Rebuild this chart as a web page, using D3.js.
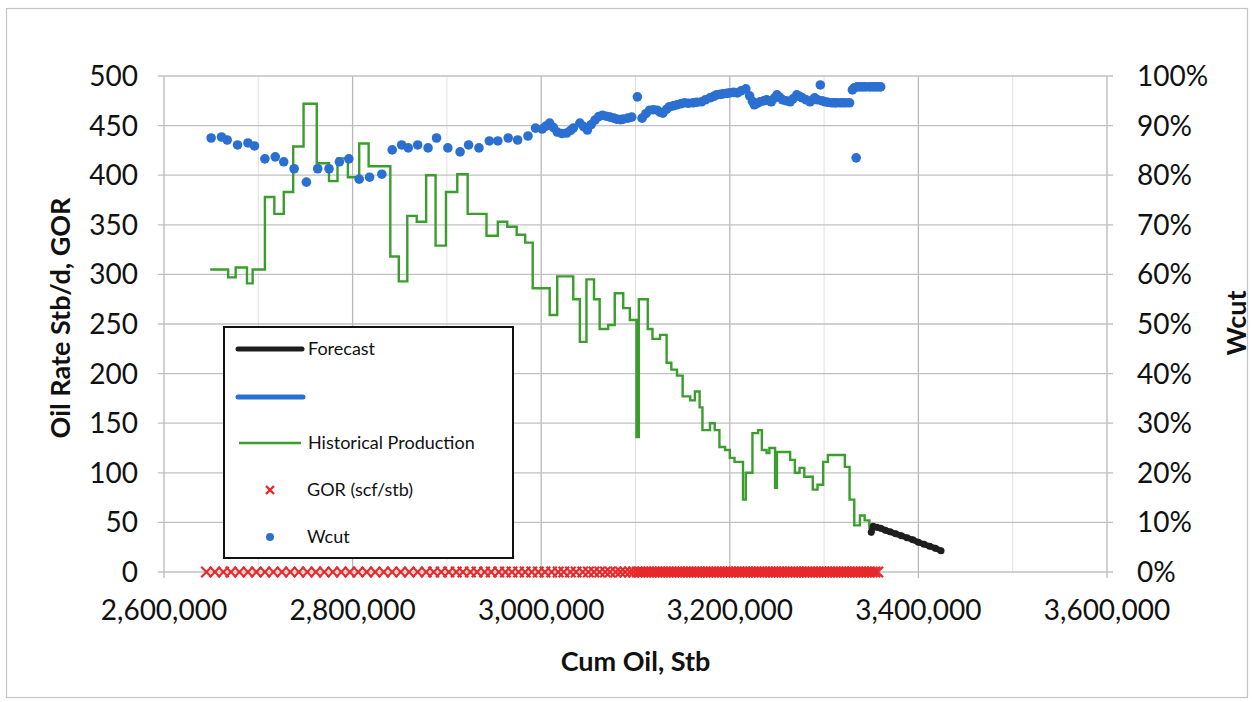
<!DOCTYPE html>
<html><head><meta charset="utf-8">
<script src="https://cdn.jsdelivr.net/npm/d3@7"></script>
<style>
body{margin:0;background:#fff}
svg{display:block}
text{font-family:Lato,"Open Sans",sans-serif;fill:#111}
</style>
</head><body>
<svg id="chart" width="1252" height="702"></svg>
<script>
// ---- data ----
const histCum = [2649000,2668000,2676000,2688000,2694000,2707000,2717000,2727000,2737000,2748000,2762000,2775000,2784000,2795000,2807000,2817000,2840000,2849000,2858000,2868000,2878000,2888000,2899000,2911000,2922000,2942000,2954000,2964000,2974000,2983000,2991000,3009000,3017000,3034000,3041000,3048000,3056000,3062000,3071000,3078000,3087000,3094000,3101000,3103500,3113000,3118000,3126000,3133000,3138000,3144000,3150000,3158000,3163000,3168000,3171000,3179000,3184000,3189000,3195000,3200000,3205000,3214000,3217000,3224000,3230000,3234000,3239000,3242000,3248000,3250000,3264000,3269000,3274000,3279000,3288000,3293000,3299000,3304000,3322000,3327000,3332000,3338000,3343000,3348000,3352000];
const histRate = [305,297,307,291,305,378,361,383,429,472,412,394,417,398,432,409,318,293,359,353,400,329,383,401,361,339,353,348,340,332,286,259,298,275,232,295,275,245,249,281,266,254,136,275,245,235,239,211,204,198,177,173,182,166,143,150,143,126,123,115,111,73,100,140,143,123,120,125,85,121,113,100,105,96,83,88,111,118,106,73,47,57,52,44,44];

const forecastCum = [3350000,3352000,3356000,3360000,3365000,3370000,3376000,3382000,3388000,3394000,3400000,3406000,3412000,3418000,3424000];
const forecastRate = [40,46,45,44,42,40.5,38.5,36.5,34.5,32.5,30,28,26,24,21.5];

const wcutCum = [2650000,2661000,2667000,2678000,2689000,2696000,2707000,2718000,2727000,2738000,2751000,2763000,2775000,2786000,2796000,2807000,2818000,2831000,2842000,2852000,2859000,2869000,2880000,2889000,2901000,2914000,2923000,2934000,2945000,2954000,2965000,2975000,2986000,2994000,3001000,3005000,3009000,3013000,3017000,3022000,3027000,3031000,3034000,3041000,3045000,3049000,3053000,3057000,3061000,3065000,3069000,3073000,3077000,3080000,3084000,3087000,3092000,3096000,3102000,3107000,3111000,3115000,3119000,3123000,3126000,3129000,3133000,3136000,3140000,3144000,3148000,3152000,3156000,3161000,3165000,3170000,3174000,3179000,3183000,3186000,3190000,3193000,3197000,3200000,3204000,3208000,3212000,3217000,3221000,3224000,3226000,3229000,3232000,3236000,3239000,3242000,3244000,3247000,3250000,3253000,3256000,3260000,3264000,3267000,3271000,3274000,3277000,3281000,3285000,3288000,3290000,3293000,3296000,3298000,3301000,3304000,3308000,3311000,3313000,3317000,3320000,3323000,3327000,3330000,3332000,3334000,3335000,3338000,3341000,3344000,3348000,3351000,3354000,3357000,3360000];
const wcutPct = [87.5,87.7,87.1,86.1,86.5,85.9,83.3,83.7,82.7,81.3,78.6,81.3,81.3,82.7,83.3,79.2,79.6,80.2,85.1,86.1,85.5,86.1,85.5,87.5,85.5,84.7,86.1,85.5,86.9,86.9,87.5,87.1,87.9,89.5,89.3,89.9,90.5,89.6,88.7,88.4,88.5,89.0,89.5,90.5,89.8,89.1,90.2,91.1,91.8,92.1,91.9,91.7,91.5,91.3,91.2,91.3,91.5,91.7,95.8,91.5,92.4,93.1,93.2,93.1,92.7,92.5,93.3,93.8,94.0,94.2,94.4,94.6,94.5,94.6,94.7,94.8,95.2,95.6,95.9,96.2,96.3,96.4,96.5,96.6,96.7,96.6,97.0,97.4,96.0,94.9,94.2,94.5,94.8,95.0,95.2,95.0,94.8,95.5,96.2,95.7,95.2,95.0,94.8,95.4,96.2,95.9,95.6,95.2,94.8,95.2,95.6,95.2,98.2,95.0,94.8,94.7,94.6,94.6,94.6,94.6,94.6,94.6,94.6,97.2,97.6,83.5,97.8,97.8,97.8,97.8,97.8,97.8,97.8,97.8,97.8];

const gorCum = [2645000,2654000,2663000,2671000,2680000,2689000,2698000,2707000,2716000,2725000,2734000,2743000,2752000,2761000,2770000,2779000,2788000,2797000,2806000,2815000,2824000,2833000,2842000,2851000,2860000,2869000,2878000,2886000,2894000,2902000,2910000,2917000,2925000,2932000,2940000,2947000,2955000,2962000,2969000,2976000,2983000,2990000,2997000,3004000,3011000,3018000,3024000,3031000,3037000,3044000,3050000,3056000,3062000,3068000,3073000,3079000,3084000,3089000,3094000,3098000,3102000,3105000,3108000,3111000,3114000,3117000,3120000,3123000,3126000,3129000,3132000,3135000,3138000,3141000,3144000,3147000,3150000,3153000,3156000,3159000,3162000,3165000,3168000,3171000,3174000,3177000,3180000,3183000,3186000,3189000,3192000,3195000,3198000,3201000,3204000,3207000,3210000,3213000,3216000,3219000,3222000,3225000,3228000,3231000,3234000,3237000,3240000,3243000,3246000,3249000,3252000,3255000,3258000,3261000,3264000,3267000,3270000,3273000,3276000,3279000,3282000,3285000,3288000,3291000,3294000,3297000,3300000,3303000,3306000,3309000,3312000,3315000,3318000,3321000,3324000,3327000,3330000,3333000,3336000,3339000,3342000,3345000,3348000,3351000,3354000,3357000];
const gorVal = gorCum.map(() => 0);

const leftTicks = [0,50,100,150,200,250,300,350,400,450,500];
const rightTicks = [0,0.1,0.2,0.3,0.4,0.5,0.6,0.7,0.8,0.9,1.0];
const xTicks = [2600000,2800000,3000000,3200000,3400000,3600000];
const xMinorTicks = [2700000,2900000,3100000,3300000,3500000];

const legendItems = ["Forecast","","Historical Production","GOR (scf/stb)","Wcut"];
const titles = {x:"Cum Oil, Stb", y:"Oil Rate Stb/d, GOR", y2:"Wcut"};

// ---- layout ----
const svg = d3.select("#chart");
const L = 164, R = 1107, T = 76, B = 572;
const x = d3.scaleLinear().domain([2600000,3600000]).range([L,R]);
const y = d3.scaleLinear().domain([0,500]).range([B,T]);
const y2 = d3.scaleLinear().domain([0,1]).range([B,T]);

const C = {green:"#3a9e2c", blue:"#2b6fd1", red:"#e8282a", black:"#1e1e1e"};

// outer frame
svg.append("rect").attr("x",6.5).attr("y",8.5).attr("width",1241).attr("height",689)
  .attr("fill","none").attr("stroke","#c4c4c4").attr("stroke-width",1.2);

// grid
const g = svg.append("g");
g.selectAll(".vminor").data(xMinorTicks).join("line")
  .attr("x1",d=>x(d)).attr("x2",d=>x(d)).attr("y1",T).attr("y2",B)
  .attr("stroke","#e2e2e2").attr("stroke-width",1);
g.selectAll(".vmajor").data(xTicks).join("line")
  .attr("x1",d=>x(d)).attr("x2",d=>x(d)).attr("y1",T).attr("y2",B+6)
  .attr("stroke","#b8b8b8").attr("stroke-width",1.3);
g.selectAll(".h").data(leftTicks).join("line")
  .attr("x1",L-6).attr("x2",R+6).attr("y1",d=>y(d)).attr("y2",d=>y(d))
  .attr("stroke","#c0c0c0").attr("stroke-width",1.3);

// axes labels
svg.append("g").selectAll("text").data(leftTicks).join("text")
  .attr("x",138).attr("y",d=>y(d)).attr("dy","0.36em").attr("text-anchor","end")
  .style("font-size","28px").text(d=>d);
svg.append("g").selectAll("text").data(rightTicks).join("text")
  .attr("x",1137).attr("y",d=>y2(d)).attr("dy","0.36em").attr("text-anchor","start")
  .style("font-size","28px").text(d=>d3.format(".0%")(d));
svg.append("g").selectAll("text").data(xTicks).join("text")
  .attr("x",d=>x(d)).attr("y",610).attr("dy","0.36em").attr("text-anchor","middle")
  .style("font-size","28px").text(d=>d3.format(",")(d));

svg.append("text").attr("x",x(3100000)).attr("y",661).attr("dy","0.36em")
  .attr("text-anchor","middle").style("font-size","27px").style("font-weight","bold").text(titles.x);
svg.append("text").attr("transform","translate(60,318) rotate(-90)").attr("dy","0.36em")
  .attr("text-anchor","middle").style("font-size","27px").style("font-weight","bold").text(titles.y);
svg.append("text").attr("transform","translate(1236,323) rotate(-90)").attr("dy","0.36em")
  .attr("text-anchor","middle").style("font-size","27px").style("font-weight","bold").text(titles.y2);

// GOR crosses
const cross = (sel, s) => sel.attr("d", `M${-s},${-s}L${s},${s}M${-s},${s}L${s},${-s}`);
svg.append("g").selectAll("path").data(gorCum.map((c,i)=>[c,gorVal[i]])).join("path")
  .call(cross,5.2)
  .attr("transform",d=>`translate(${x(d[0])},${y(d[1])})`)
  .attr("stroke",C.red).attr("stroke-width",2.2).attr("fill","none");

// historical step line
const hist = histCum.map((c,i)=>[c,histRate[i]]);
svg.append("path").datum(hist)
  .attr("d", d3.line().x(d=>x(d[0])).y(d=>y(d[1])).curve(d3.curveStepAfter))
  .attr("fill","none").attr("stroke",C.green).attr("stroke-width",2.4);

// forecast
const fc = forecastCum.map((c,i)=>[c,forecastRate[i]]);
svg.append("path").datum(fc)
  .attr("d", d3.line().x(d=>x(d[0])).y(d=>y(d[1])))
  .attr("fill","none").attr("stroke",C.black).attr("stroke-width",6).attr("stroke-linecap","round").attr("stroke-linejoin","round");
svg.append("g").selectAll("circle").data(fc).join("circle")
  .attr("cx",d=>x(d[0])).attr("cy",d=>y(d[1])).attr("r",3.5).attr("fill",C.black);

// wcut dots
svg.append("g").selectAll("circle").data(wcutCum.map((c,i)=>[c,wcutPct[i]/100])).join("circle")
  .attr("cx",d=>x(d[0])).attr("cy",d=>y2(d[1])).attr("r",4.8).attr("fill",C.blue);

// legend
const lg = svg.append("g");
lg.append("rect").attr("x",224).attr("y",327).attr("width",289).attr("height",231)
  .attr("fill","#fff").attr("stroke","#111").attr("stroke-width",2);
const rowY = [349,397,443,490,537];
lg.append("line").attr("x1",238).attr("x2",302).attr("y1",rowY[0]).attr("y2",rowY[0])
  .attr("stroke",C.black).attr("stroke-width",5).attr("stroke-linecap","round");
lg.append("line").attr("x1",238).attr("x2",303).attr("y1",rowY[1]).attr("y2",rowY[1])
  .attr("stroke",C.blue).attr("stroke-width",5).attr("stroke-linecap","round");
lg.append("line").attr("x1",239).attr("x2",301).attr("y1",rowY[2]).attr("y2",rowY[2])
  .attr("stroke",C.green).attr("stroke-width",2.5);
lg.append("path").call(cross,4).attr("transform",`translate(270,${rowY[3]})`)
  .attr("stroke",C.red).attr("stroke-width",2.4);
lg.append("circle").attr("cx",270).attr("cy",rowY[4]).attr("r",4).attr("fill",C.blue);
lg.selectAll("text").data(legendItems).join("text")
  .attr("x",(d,i)=> i>=3 ? 307 : 308).attr("y",(d,i)=>rowY[i]).attr("dy","0.36em")
  .style("font-size","18px").text(d=>d);
</script>
</body></html>
